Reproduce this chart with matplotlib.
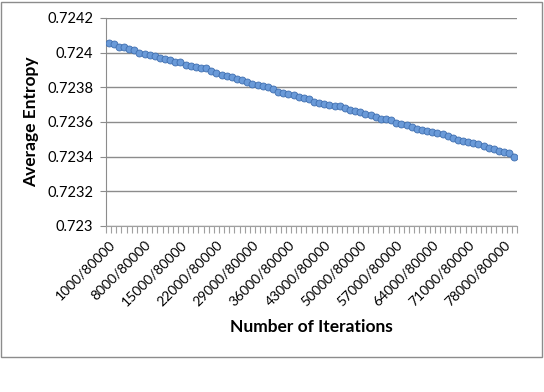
import matplotlib.pyplot as plt
import matplotlib.patches as patches

# iterations (x of 80000) and average entropy
iterations = list(range(1000, 80001, 1000))
entropy = [
    0.724055, 0.724050, 0.724034, 0.724032, 0.724023, 0.724013, 0.724000, 0.723990,
    0.723989, 0.723983, 0.723971, 0.723966, 0.723960, 0.723949, 0.723945, 0.723930,
    0.723924, 0.723918, 0.723912, 0.723909, 0.723897, 0.723880, 0.723869, 0.723863,
    0.723857, 0.723850, 0.723840, 0.723829, 0.723821, 0.723815, 0.723808, 0.723800,
    0.723789, 0.723775, 0.723766, 0.723762, 0.723756, 0.723747, 0.723737, 0.723731,
    0.723716, 0.723707, 0.723703, 0.723699, 0.723693, 0.723690, 0.723682, 0.723670,
    0.723663, 0.723655, 0.723649, 0.723640, 0.723628, 0.723619, 0.723615, 0.723609,
    0.723596, 0.723587, 0.723581, 0.723569, 0.723560, 0.723554, 0.723550, 0.723543,
    0.723535, 0.723529, 0.723520, 0.723510, 0.723499, 0.723493, 0.723484, 0.723478,
    0.723472, 0.723461, 0.723449, 0.723442, 0.723434, 0.723427, 0.723419, 0.723398,
]
labels = [f"{n}/80000" for n in iterations]
y_ticks = [0.723, 0.7232, 0.7234, 0.7236, 0.7238, 0.724, 0.7242]
y_labels = ["0.723", "0.7232", "0.7234", "0.7236", "0.7238", "0.724", "0.7242"]

plt.rcParams['font.family'] = ['Lato', 'DejaVu Sans']

fig = plt.figure(figsize=(5.44, 3.92), dpi=100)
# outer chart frame
fig.patches.append(patches.Rectangle((1 / 544, 1 - 357 / 392), 541 / 544, 355 / 392,
                                     transform=fig.transFigure, fill=False,
                                     edgecolor='#8c8c8c', linewidth=1.0))

ax = fig.add_axes([106 / 544, 1 - 226 / 392, 411 / 544, 208 / 392])
x = list(range(len(iterations)))

# faint shadow under the series
ax.plot([v + 0.4 for v in x], [v - 0.000005 for v in entropy], color='#d4d4d4',
        linewidth=3, zorder=2)
ax.plot(x, entropy, color='#4a7ebb', linewidth=1.5, marker='o', markersize=5,
        markerfacecolor='#6a9ad8', markeredgecolor='#3f6fb0', markeredgewidth=0.6, zorder=3)

ax.set_xlim(-0.5, len(iterations) - 0.5)
ax.set_ylim(0.723, 0.7242)
ax.set_yticks(y_ticks)
ax.set_yticklabels(y_labels, fontsize=10.5)
ax.yaxis.grid(True, color='#8c8c8c', linewidth=1.0)
ax.set_axisbelow(True)

ax.set_xticks(x[::7])
ax.set_xticklabels(labels[::7], rotation=45, ha='right', rotation_mode='anchor', fontsize=10)
ax.set_xticks([i - 0.5 for i in range(len(iterations) + 1)], minor=True)
ax.tick_params(axis='x', which='major', length=0, pad=9)
ax.tick_params(axis='x', which='minor', length=5, color='#a0a0a0', width=0.8)
ax.tick_params(axis='y', length=4, color='#8c8c8c', pad=5)

for side in ['top', 'right']:
    ax.spines[side].set_visible(False)
ax.spines['left'].set_color('#8c8c8c')
ax.spines['bottom'].set_color('#a0a0a0')

ax.set_ylabel('Average Entropy', fontsize=12.5, fontweight='bold', labelpad=6)
ax.set_xlabel('Number of Iterations', fontsize=12.5, fontweight='bold', labelpad=8)

fig.savefig('out.png', dpi=100)
